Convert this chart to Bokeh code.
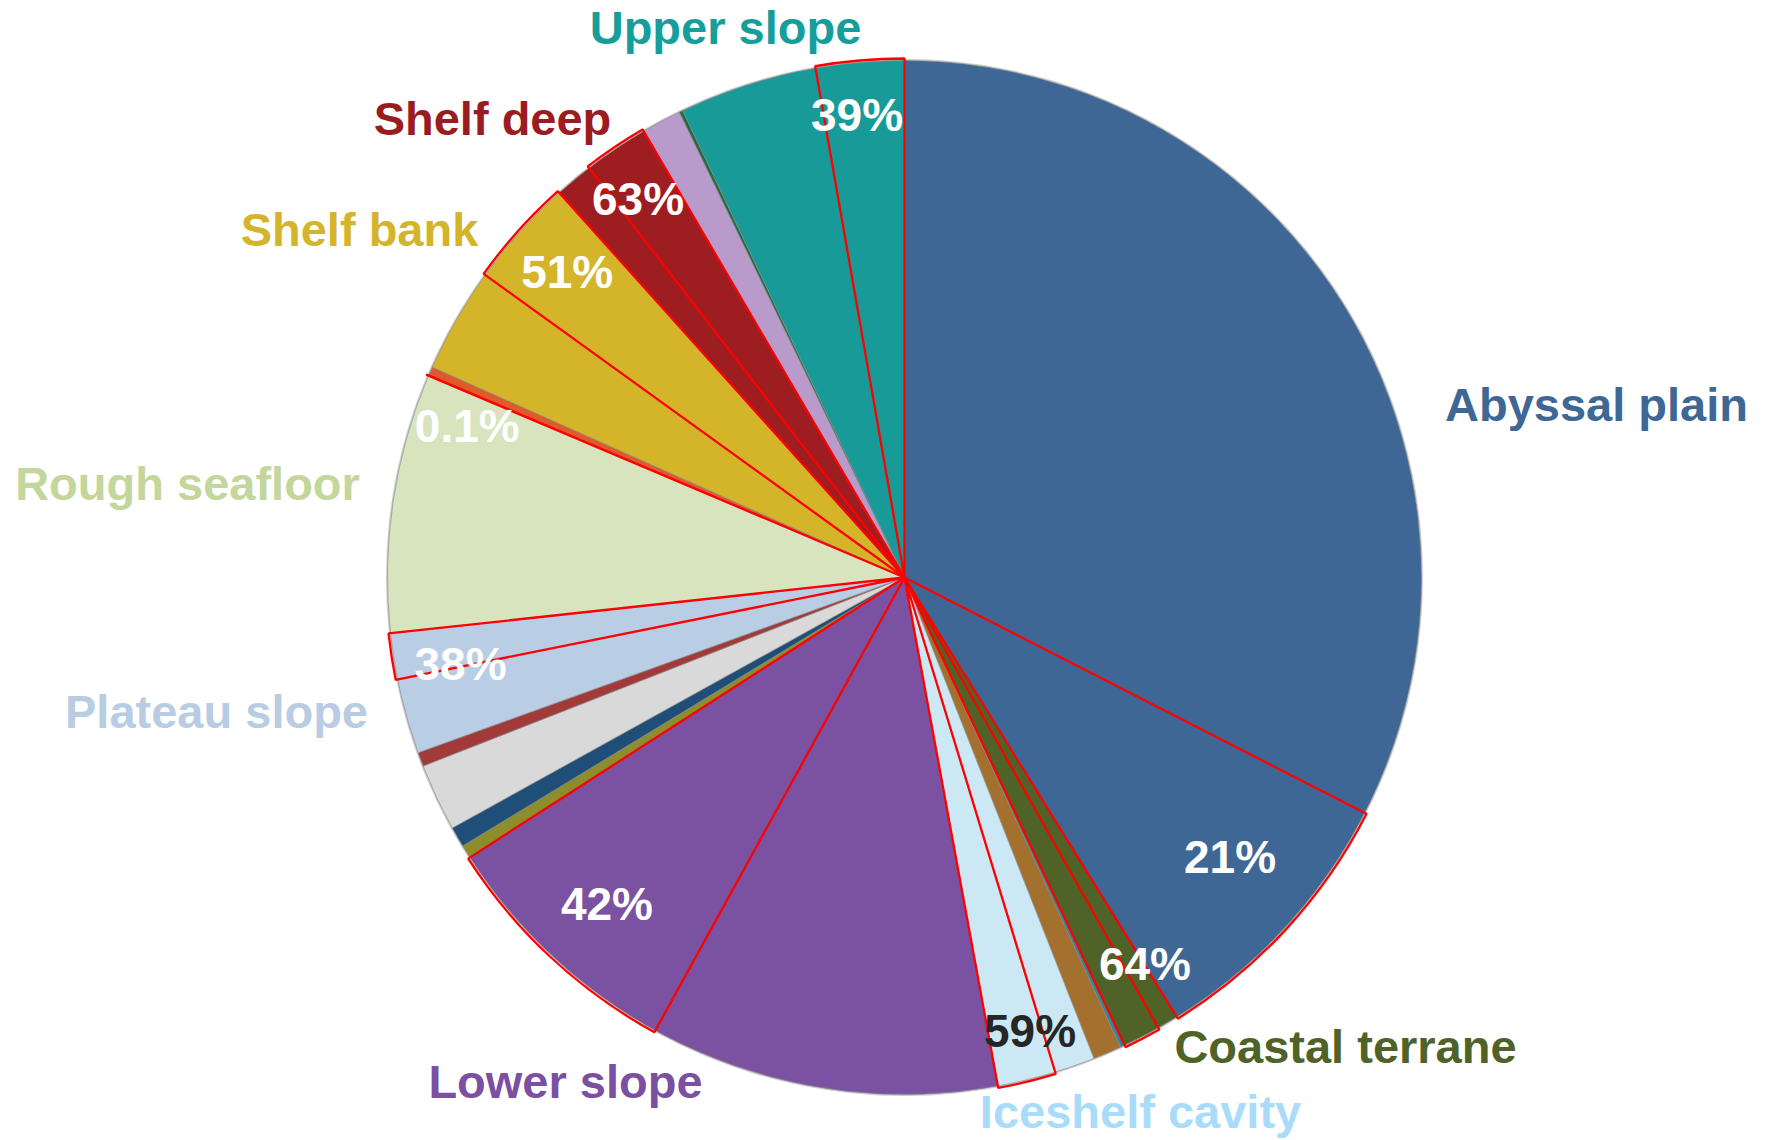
import math
from bokeh.plotting import figure
from bokeh.models import Range1d
from bokeh.embed import file_html
from bokeh.resources import INLINE
from bokeh.core.properties import value

# ---- data (clockwise from 12 o'clock) ----
categories = ["Abyssal plain", "Coastal terrane", "Unlabelled teal", "Unlabelled brown",
              "Iceshelf cavity", "Lower slope", "Unlabelled olive", "Unlabelled navy",
              "Unlabelled grey", "Unlabelled red", "Plateau slope", "Rough seafloor",
              "Unlabelled orange", "Shelf bank", "Shelf deep", "Unlabelled lilac",
              "Unlabelled green", "Upper slope"]
shares = [41.17, 1.83, 0.14, 0.89, 3.08, 18.78, 0.42, 0.64, 2.11, 0.44,
          3.78, 8.11, 0.28, 6.69, 3.22, 1.25, 0.11, 7.06]
outlined_pct = [21, 64, 0, 0, 59, 42, 0, 0, 0, 0, 38, 0.1, 0, 51, 63, 0, 0, 39]
pct_text = ["21%", "64%", "", "", "59%", "42%", "", "", "", "", "38%", "0.1%", "",
            "51%", "63%", "", "", "39%"]
show_name = [True, True, False, False, True, True, False, False, False, False,
             True, True, False, True, True, False, False, True]

# ---- styles ----
slice_colors = ["#3E6795", "#4F6228", "#31859C", "#A3702D", "#CDE8F5", "#7B51A1",
                "#8D8D2C", "#1F4E79", "#D9D9D9", "#A23A3A", "#B9CDE5", "#D7E4BD",
                "#E05A2B", "#D4B52A", "#9E1D21", "#B89BCB", "#236B45", "#189B98"]
name_colors = ["#3E6795", "#4F6228", None, None, "#A8DCFA", "#7B4FA2", None, None,
               None, None, "#B8CCE4", "#C3D69B", None, "#D4B42A", "#9B1C1F", None,
               None, "#159E9B"]
# name label offsets from pie centre (px, y downwards)
name_off = [(692, -173), (441, 469), None, None, (236, 534), (-339, 504), None, None,
            None, None, (-688, 134), (-717, -94), None, (-545, -348), (-412, -459),
            None, None, (-179, -550)]
# percent label placement: radius fraction and angular nudge (deg)
pct_r = [0.83, 0.88, 0, 0, 0.91, 0.855, 0, 0, 0, 0, 0.875, 0.895, 0, 0.88, 0.895, 0, 0, 0.9]
pct_nudge = [-2.0, -4.6, 0, 0, -1.8, -0.7, 0, 0, 0, 0, -2.3, -3.9, 0, 0.2, -1.2, 0, 0, -0.9]
pct_color = ["white", "white", None, None, "#262626", "white", None, None, None, None,
             "white", "white", None, "white", "white", None, None, "white"]

W, H = 1769, 1140
CXp, CYp = 904, 577          # centre in page pixels
R = 517
CX, CY = CXp, H - CYp

total = sum(shares)
starts, ends = [], []
acc = 0.0
for s in shares:
    starts.append(acc / total * 360.0)
    acc += s
    ends.append(acc / total * 360.0)

def bk(theta_deg):
    return math.radians(90.0 - theta_deg)

p = figure(width=W, height=H, x_range=Range1d(0, W), y_range=Range1d(0, H),
           output_backend="svg", toolbar_location=None, min_border=0,
           x_axis_location=None, y_axis_location=None)
p.grid.visible = False
p.outline_line_color = None
p.background_fill_color = "white"
p.border_fill_color = "white"

# soft shadow rim
p.circle(x=[CX], y=[CY], radius=R + 1.5, fill_color="#9a9a9a", fill_alpha=0.5, line_color=None)

p.wedge(x=[CX] * len(shares), y=[CY] * len(shares), radius=R,
        start_angle=[bk(e) for e in ends], end_angle=[bk(s) for s in starts],
        fill_color=slice_colors, line_color="#8a8a8a", line_width=0.8, line_alpha=0.8)

# red outlined sub-portions (at the clockwise end of each slice)
ox, oy, os_, oe = [], [], [], []
for s, e, f in zip(starts, ends, outlined_pct):
    if f > 0:
        sub = e - f / 100.0 * (e - s)
        ox.append(CX); oy.append(CY)
        os_.append(bk(e)); oe.append(bk(sub))
p.wedge(x=ox, y=oy, radius=R + 2, start_angle=os_, end_angle=oe,
        fill_alpha=0, line_color="#FF0000", line_width=2.3)

# percentage labels
tx, ty, tt, tc = [], [], [], []
for s, e, f, t, r, n, c in zip(starts, ends, outlined_pct, pct_text, pct_r, pct_nudge, pct_color):
    if f > 0:
        sub = e - f / 100.0 * (e - s)
        mid = (sub + e) / 2.0 + n
        a = math.radians(mid)
        tx.append(CX + r * R * math.sin(a))
        ty.append(CY + r * R * math.cos(a))
        tt.append(t); tc.append(c)
p.text(x=tx, y=ty, text=tt, text_color=tc, text_font=value("Liberation Sans"),
       text_font_style="bold", text_font_size="46px", text_align="center",
       text_baseline="middle")

# category names
nx, ny, nt, nc = [], [], [], []
for name, show, off, col in zip(categories, show_name, name_off, name_colors):
    if show:
        nx.append(CX + off[0]); ny.append(CY - off[1]); nt.append(name); nc.append(col)
p.text(x=nx, y=ny, text=nt, text_color=nc, text_font=value("Liberation Sans"),
       text_font_style="bold", text_font_size="47px", text_align="center",
       text_baseline="middle")

open("out.html", "w").write(file_html(p, INLINE))
